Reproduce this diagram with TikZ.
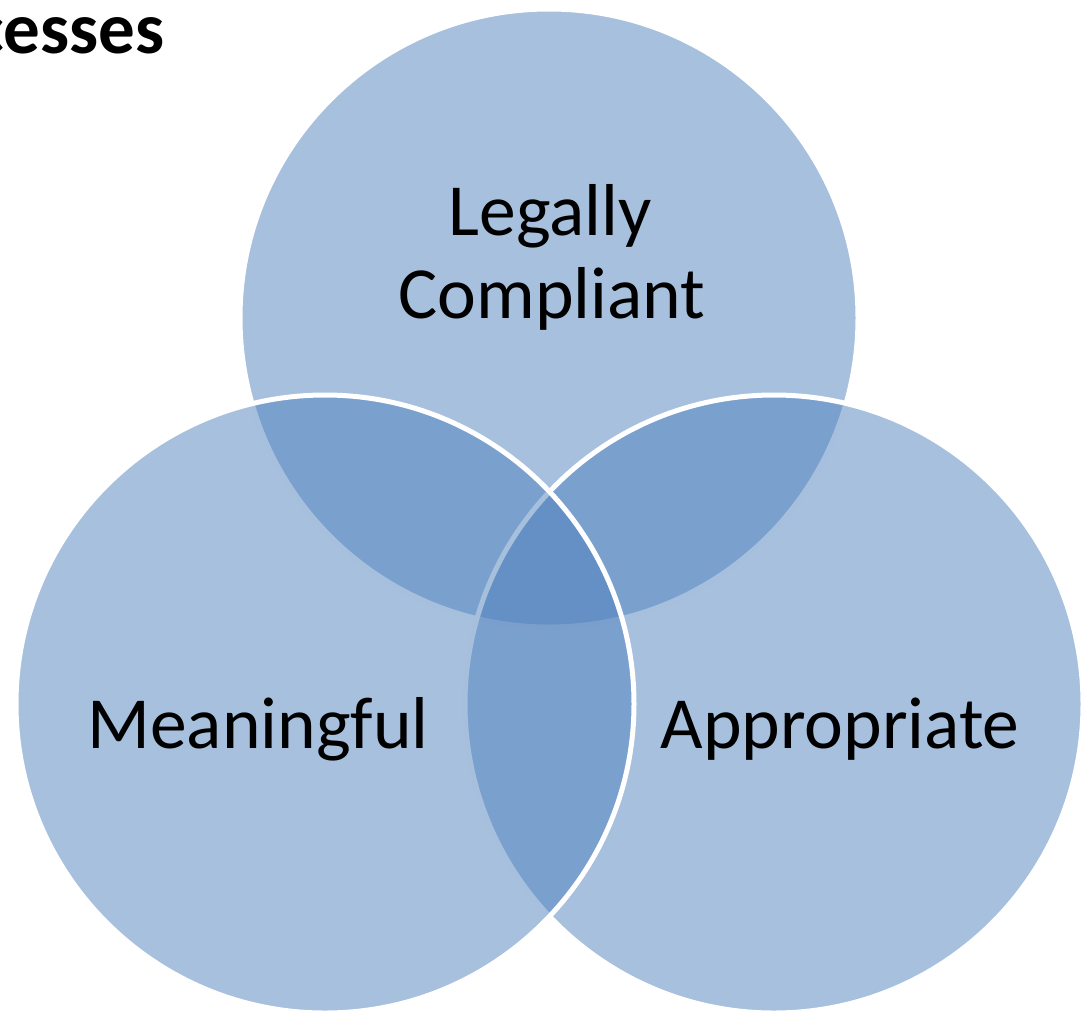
\documentclass[tikz,border=0pt]{standalone}
\usepackage{fontspec}
\setmainfont{Carlito}
\definecolor{vennblue}{RGB}{79,129,189}
\begin{document}
\begin{tikzpicture}[x=1pt,y=-1pt,
  venn/.style={fill=vennblue,fill opacity=0.5,draw=white,line width=5pt},
  lbl/.style={anchor=base,inner sep=0pt,font=\fontsize{73.5}{85}\selectfont,text=black},
  ttl/.style={anchor=base east,inner sep=0pt,font=\fontsize{73}{85}\selectfont\bfseries,text=black}]
\useasboundingbox (0,0) rectangle (1090,1013);
\clip (0,0) rectangle (1090,1013);
\path[venn] (549,318) circle (309);
\path[venn] (774,704) circle (309);
\path[venn] (325,704) circle (309);
\node[ttl] (title) at (165,53) {Processes};
\node[lbl] (lc1) at (550,235) {Legally};
\node[lbl] (lc2) at (552,318) {Compliant};
\node[lbl] (mean) at (258,748) {Meaningful};
\node[lbl] (appr) at (840,748) {Appropriate};
\end{tikzpicture}
\end{document}
